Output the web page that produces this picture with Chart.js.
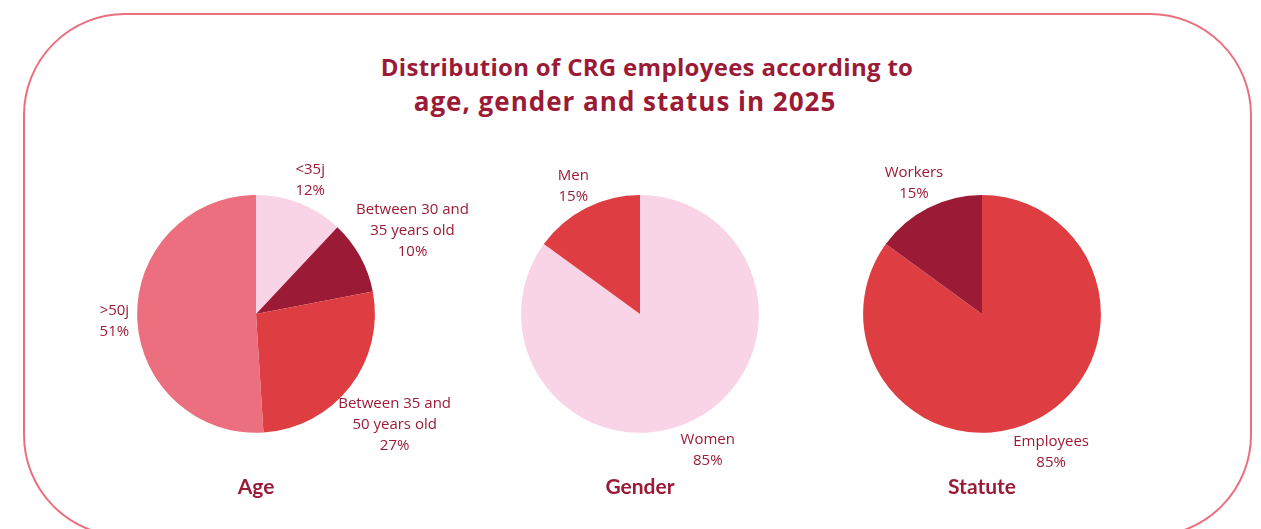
<!DOCTYPE html>
<html>
<head>
<meta charset="utf-8">
<script src="https://cdn.jsdelivr.net/npm/chart.js@4"></script>
<style>
  body { margin: 0; background: #fff; font-family: 'Open Sans', sans-serif; }
  #page { position: relative; width: 1261px; height: 529px; overflow: hidden; }
  #frame {
    position: absolute; left: 23px; top: 13px; width: 1225px; height: 520px;
    border: 2px solid #EB6F7E; border-radius: 102px;
  }
  .title { position: absolute; color: #9B1B36; font-weight: bold; white-space: nowrap; transform: translateX(-50%); }
  #t1 { left: 647px; top: 50px; font-size: 24px; letter-spacing: 0.3px; }
  #t2 { left: 625px; top: 83px; font-size: 26px; letter-spacing: 1px; }
  canvas { position: absolute; top: 0; }
</style>
</head>
<body>
<div id="page">
  <div id="frame"></div>
  <div class="title" id="t1">Distribution of CRG employees according to</div>
  <div class="title" id="t2">age, gender and status in 2025</div>
  <canvas id="ageChart" width="460" height="529" style="left:26px"></canvas>
  <canvas id="genderChart" width="460" height="529" style="left:410px"></canvas>
  <canvas id="statusChart" width="460" height="529" style="left:752px"></canvas>
</div>
<script>
  // Données
  const ageLabels = [['<35j'], ['Between 30 and', '35 years old'], ['Between 35 and', '50 years old'], ['>50j']];
  const ageValues = [12, 10, 27, 51];
  const ageColors = ['#F9D4E6', '#9B1B36', '#DE3E42', '#EB6F7E'];

  const genderLabels = [['Women'], ['Men']];
  const genderValues = [85, 15];
  const genderColors = ['#F9D4E6', '#DE3E42'];

  const statusLabels = [['Employees'], ['Workers']];
  const statusValues = [85, 15];
  const statusColors = ['#DE3E42', '#9B1B36'];

  const textColor = '#9B1B36';

  // Étiquettes à l'extérieur des parts
  const outsideLabels = {
    id: 'outsideLabels',
    afterDatasetsDraw(chart) {
      const ctx = chart.ctx;
      const meta = chart.getDatasetMeta(0);
      const data = chart.data.datasets[0].data;
      const fontSize = 15;
      const lineH = 21;
      ctx.save();
      ctx.font = fontSize + "px 'Open Sans', sans-serif";
      ctx.fillStyle = textColor;
      ctx.textAlign = 'center';
      ctx.textBaseline = 'middle';
      meta.data.forEach((arc, i) => {
        const p = arc.getProps(['x', 'y', 'startAngle', 'endAngle', 'outerRadius'], true);
        const mid = (p.startAngle + p.endAngle) / 2;
        const dx = Math.cos(mid), dy = Math.sin(mid);
        const lines = chart.data.labels[i].concat([data[i] + '%']);
        const w = Math.max(...lines.map(l => ctx.measureText(l).width));
        const h = lines.length * lineH;
        const edge = Math.sqrt(Math.pow(w / 2 * dx, 2) + Math.pow(h / 2 * dy, 2));
        const d = p.outerRadius + 8 + edge;
        const cx = p.x + dx * d;
        const cy = p.y + dy * d + 3;
        lines.forEach((l, k) => {
          ctx.fillText(l, cx, cy - h / 2 + lineH * (k + 0.5));
        });
      });
      ctx.restore();
    }
  };

  function criarPizza(id, labels, values, colors, titulo) {
    const ctx = document.getElementById(id).getContext('2d');
    return new Chart(ctx, {
      type: 'pie',
      data: {
        labels: labels,
        datasets: [{
          data: values,
          backgroundColor: colors,
          borderWidth: 0
        }]
      },
      options: {
        responsive: false,
        animation: false,
        layout: { padding: { top: 195, bottom: 29 } },
        plugins: {
          legend: { display: false },
          tooltip: { enabled: false },
          title: {
            display: true,
            text: titulo,
            position: 'bottom',
            color: textColor,
            font: { family: "Lato, sans-serif", size: 21, weight: 'bold', lineHeight: 1.2 },
            padding: { top: 42, bottom: 0 }
          }
        }
      },
      plugins: [outsideLabels]
    });
  }

  criarPizza('ageChart', ageLabels, ageValues, ageColors, 'Age');
  criarPizza('genderChart', genderLabels, genderValues, genderColors, 'Gender');
  criarPizza('statusChart', statusLabels, statusValues, statusColors, 'Statute');
</script>
</body>
</html>
